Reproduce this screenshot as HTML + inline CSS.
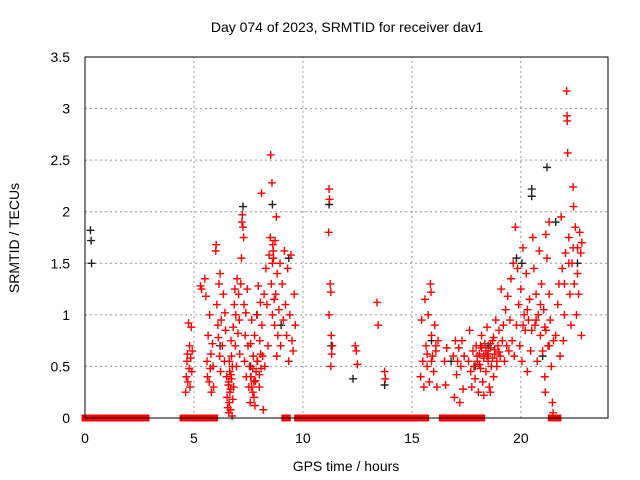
<!DOCTYPE html>
<html><head><meta charset="utf-8"><style>
body{margin:0;background:#fff}
svg{display:block;font-family:"Liberation Sans",sans-serif}
</style></head><body>
<svg id="c" width="640" height="480">
<text x="347" y="32" font-size="14" text-anchor="middle">Day 074 of 2023, SRMTID for receiver dav1</text>
<text x="346" y="471" font-size="14" text-anchor="middle">GPS time / hours</text>
<text transform="translate(19,238) rotate(-90)" font-size="14" text-anchor="middle">SRMTID / TECUs</text>
<g id="grid"></g><g id="ticks"></g><g id="marks"></g>
<rect x="85" y="57" width="523" height="361" fill="none" stroke="#000" stroke-width="1"/>
</svg>
<script>
const xTicks=[0,5,10,15,20];
const yTicks=[0,0.5,1,1.5,2,2.5,3,3.5];
const yTickLabels=["0","0.5","1","1.5","2","2.5","3","3.5"];
const zeroStart=[0,1.2,2.8,4.5,4.9,9.17,9.76,11.46,15.63,16.4,17.5,21.4,21.6,21.7];
const zeroEnd=[1.05,2.5,2.8,4.75,5.95,9.28,11.2,15.46,15.63,17.4,18.2,21.4,21.6,21.7];
const redT=[4.62,4.65,4.68,4.7,4.72,4.75,4.78,4.8,4.82,4.85,4.88,4.9,4.92,
5.3,5.35,5.5,5.55,5.6,5.62,5.65,5.7,5.72,5.75,5.78,5.8,5.85,5.88,5.9,
6.0,6.02,6.05,6.1,6.12,6.15,6.18,6.2,6.22,6.25,6.3,6.35,6.4,6.42,6.45,6.5,
6.52,6.55,6.58,6.6,6.62,6.65,6.68,6.7,6.72,6.75,6.78,6.8,6.82,6.85,6.88,6.9,6.92,6.95,6.98,6.62,6.7,
7.02,7.05,7.08,7.1,7.15,7.18,7.2,7.22,7.25,7.28,7.3,7.32,7.35,7.38,7.4,7.45,7.48,
7.52,7.55,7.58,7.6,7.62,7.65,7.7,7.72,7.75,7.78,7.8,7.85,7.88,7.9,7.95,8.0,8.02,8.05,8.08,8.1,8.12,8.15,8.18,
8.22,8.25,8.3,8.35,8.4,8.45,8.5,8.52,8.55,8.58,8.6,8.62,8.65,8.7,8.72,8.75,8.8,8.82,8.85,8.9,8.95,8.98,8.78,
9.05,9.1,9.15,9.2,9.25,9.3,9.35,9.4,9.45,9.5,9.55,9.6,9.65,
11.2,11.22,11.18,11.25,11.28,11.2,11.3,11.32,11.28,11.35,
12.4,12.45,12.5,13.4,13.45,13.75,13.78,
15.4,15.45,15.5,15.55,15.6,15.65,15.7,15.75,15.8,15.85,15.88,15.9,15.95,16.0,16.05,16.1,16.15,16.2,
16.5,16.55,16.6,16.9,16.95,17.0,17.05,17.1,17.15,17.2,17.25,17.3,17.35,17.4,
17.6,17.65,17.7,17.75,17.8,17.85,17.9,17.95,18.0,18.05,18.1,18.15,18.2,18.25,18.3,18.35,18.4,18.45,18.5,18.55,18.6,18.65,18.7,18.75,18.8,18.85,18.9,18.95,19.0,19.05,19.1,19.15,19.2,19.25,19.3,19.35,19.4,19.45,19.5,18.3,18.6,
19.55,19.6,19.65,19.7,19.75,19.8,19.85,19.9,19.95,20.0,20.05,20.1,20.15,20.2,20.25,20.3,20.35,20.4,20.45,
20.55,20.6,20.65,20.7,20.75,20.8,20.85,20.9,20.95,21.0,21.05,21.1,21.12,21.15,21.2,21.25,21.3,21.35,21.4,21.45,21.48,21.5,21.3,21.15,
21.6,21.7,21.75,21.8,21.85,21.9,21.95,22.0,22.05,22.1,22.12,22.13,22.15,22.2,22.25,22.3,22.35,22.4,22.42,22.45,22.5,22.55,22.6,22.65,22.7,22.75,22.78,
6.6,6.64,6.68,6.72,6.76,7.6,7.64,7.7,7.76,7.82,7.92,8.0,8.06,8.6,8.64,8.68,
18.0,18.1,18.2,18.3,18.4,18.5,18.6,18.7,18.8,18.9,19.0,18.15,18.45,18.75,
20.1,20.3,20.5,20.7,20.9,21.1,21.3,22.0,22.2,22.4,22.6,22.8,15.7,15.9,16.1];
const redV=[0.25,0.4,0.55,0.62,0.35,0.92,0.48,0.7,0.3,0.58,0.88,0.45,0.65,
1.28,1.25,1.35,1.18,0.55,0.4,0.8,0.35,1.0,0.48,0.62,0.25,0.72,0.5,0.3,
1.62,1.68,1.1,0.9,0.78,1.3,0.6,1.4,0.45,0.95,0.7,1.2,0.55,1.02,0.85,0.4,
0.2,0.1,0.32,0.05,0.15,0.25,0.08,0.42,0.6,0.02,0.18,0.88,0.3,1.1,1.25,0.7,1.0,0.5,1.35,0.55,0.75,
0.82,1.2,0.95,0.62,1.3,1.55,1.9,1.97,1.85,1.75,1.1,0.55,0.8,1.02,0.4,1.25,0.7,
0.3,0.5,0.15,0.72,0.4,0.95,0.25,0.6,0.35,0.8,0.12,0.45,1.0,0.55,1.28,0.3,0.75,1.12,0.48,2.18,0.9,0.6,0.08,
1.2,0.5,1.45,1.1,0.7,1.58,1.75,2.55,1.3,2.28,1.0,1.68,1.55,0.9,1.72,1.2,0.6,1.4,0.8,1.05,1.5,0.7,1.95,
1.3,0.95,1.62,1.1,0.8,1.45,0.55,1.0,1.58,0.75,0.65,1.2,0.9,
2.22,2.12,1.8,1.3,1.22,1.0,0.8,0.62,0.5,0.7,
0.7,0.65,0.52,1.12,0.9,0.45,0.38,
0.4,0.95,0.55,0.3,1.15,0.7,0.5,1.0,0.35,1.3,1.22,0.8,0.6,0.45,0.9,0.65,0.3,0.75,
0.55,0.32,0.68,0.6,0.2,0.75,0.42,0.55,0.68,0.15,0.5,0.75,0.28,0.6,
0.55,0.85,0.45,0.3,0.65,0.5,0.38,0.7,0.55,0.25,0.62,0.48,0.8,0.35,0.6,0.72,0.45,0.88,0.55,0.3,0.68,0.5,0.75,0.4,0.62,0.95,0.55,0.7,0.85,0.6,1.25,0.75,0.9,0.55,1.05,0.7,1.18,0.65,0.95,0.22,0.25,
1.35,0.75,1.5,0.6,1.85,0.9,1.45,1.1,0.7,1.25,0.55,1.65,1.0,0.85,1.4,0.45,0.95,1.15,0.65,
1.75,1.45,0.9,1.2,0.55,1.0,1.62,0.8,1.3,0.65,1.05,0.4,0.25,0.85,1.55,0.7,1.2,0.95,0.5,0.15,0.05,0.75,1.9,1.78,
0.8,1.1,1.3,0.6,1.95,1.45,0.75,1.0,1.6,3.17,2.93,2.88,2.57,1.75,1.2,0.9,1.5,2.24,2.05,1.3,1.85,1.0,1.65,1.2,1.8,1.6,0.8,
0.35,0.45,0.28,0.38,0.5,0.4,0.3,0.48,0.2,0.36,0.55,0.42,0.62,1.5,1.62,1.15,
0.6,0.52,0.68,0.58,0.65,0.62,0.72,0.58,0.66,0.5,0.64,0.7,0.6,0.78,
0.9,1.05,0.85,0.95,1.1,0.88,0.7,1.3,1.5,1.65,1.4,1.7,0.62,0.55,0.7];
const blackT=[0.25,0.28,0.3,7.25,7.9,8.6,9.35,11.2,12.3,13.75,20.05,19.8,20.5,20.5,21.2,21.6,21.0,18.5,16.8,15.9,22.6,6.2,7.6,9.0,11.3,17.9];
const blackV=[1.82,1.72,1.5,2.05,1.0,2.07,1.55,2.07,0.38,0.32,1.5,1.55,2.22,2.15,2.43,1.9,0.6,0.7,0.55,0.75,1.5,0.7,0.5,0.9,0.7,0.5];

const X0=85,X1=608,Y0=418,Y1=57;
const xs=t=>X0+(X1-X0)*t/24;
const ys=v=>Y0-(Y0-Y1)*v/3.5;
const NS="http://www.w3.org/2000/svg";
function mk(tag,attrs,parent){const e=document.createElementNS(NS,tag);for(const k in attrs)e.setAttribute(k,attrs[k]);parent.appendChild(e);return e;}
const grid=document.getElementById('grid'),ticks=document.getElementById('ticks'),marks=document.getElementById('marks');
xTicks.forEach(t=>{
  const x=xs(t);
  if(t>0){const g=mk('line',{x1:x,x2:x,y1:Y0,y2:Y1,stroke:'#999','stroke-dasharray':'2,3'},grid);
  
  }
  const l=mk('text',{x:x,y:Y0+25,'font-size':14,'text-anchor':'middle'},ticks);
  l.textContent=String(t);
  
  
});
yTicks.forEach((v,i)=>{
  const y=ys(v);
  if(v>0&&v<3.5){const g=mk('line',{x1:X0,x2:X1,y1:y,y2:y,stroke:'#999','stroke-dasharray':'2,3'},grid);
  
  }
  const l=mk('text',{x:X0-15,y:y+5,'font-size':14,'text-anchor':'end'},ticks);
  l.textContent=yTickLabels[i];
  
  
});
function cross(t,v,col,name){
  const x=xs(t),y=ys(v);
  const p=mk('path',{d:`M${x-4},${y}H${x+4}M${x},${y-4}V${y+4}`,stroke:col,'stroke-width':1.4,fill:'none'},marks);
  
  
}
zeroStart.forEach((s,i)=>{
  const r=mk('rect',{x:xs(s)-3.5,y:Y0-3.5,width:xs(zeroEnd[i])-xs(s)+7,height:7,fill:'#f00'},marks);
  
  
});
blackT.forEach((t,i)=>cross(t,blackV[i],'#222','black-point'));
redT.forEach((t,i)=>cross(t,redV[i],'#f00','red-point'));
</script>
</body></html>
